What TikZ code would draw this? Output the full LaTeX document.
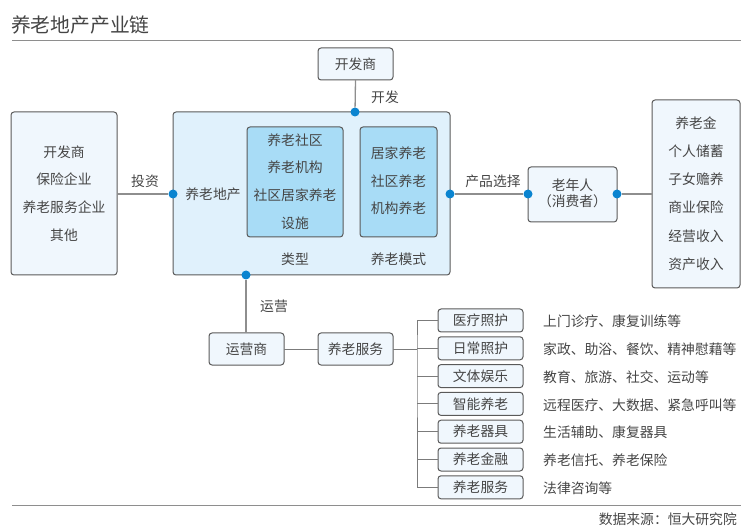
\documentclass[tikz,border=0pt]{standalone}
\usepackage{fontspec}
\setmainfont{Noto Sans CJK SC}
\definecolor{txt}{HTML}{454545}
\definecolor{bd}{HTML}{5A5A5A}
\definecolor{ln}{HTML}{8E8E8E}
\definecolor{dotc}{HTML}{0A84D0}
\definecolor{pale}{HTML}{F0F7FD}
\definecolor{mid}{HTML}{E0F1FC}
\definecolor{deep}{HTML}{A8DCF6}
\begin{document}
\begin{tikzpicture}[x=1pt,y=-1pt,
  every node/.style={text=txt,font=\fontsize{13.8}{27.7}\selectfont},
  boxs/.style={draw=bd,line width=1pt,rounded corners=3pt,inner sep=0pt,outer sep=0pt},
  palebox/.style={boxs,fill=pale},
  midbox/.style={boxs,fill=mid},
  deepbox/.style={boxs,fill=deep},
  dot/.style={circle,fill=dotc,inner sep=0pt,minimum size=9pt},
  conn/.style={draw=ln,line width=1.3pt},
  brk/.style={draw=bd!80,line width=1pt},
  lbl/.style={inner sep=0pt,align=center}
]
\useasboundingbox (0,0) rectangle (755,529);
% title
\node[anchor=west,inner sep=0pt,font=\fontsize{19.8}{22}\selectfont] (title) at (11,25) {养老地产产业链};
\draw[draw=ln,line width=1pt] (12,41) -- (741,41);
% boxes
\node[palebox,minimum width=106pt,minimum height=163pt] (left) at (64,193.5) {};
\node[lbl] (lefttxt) at (64,193.5) {开发商\\保险企业\\养老服务企业\\其他};
\node[midbox,minimum width=277pt,minimum height=163pt] (main) at (311.5,193.5) {};
\node[lbl] (maintxt) at (213,194) {养老地产};
\node[deepbox,minimum width=96pt,minimum height=110pt] (type) at (295,182) {};
\node[lbl] (typetxt) at (295,181.5) {养老社区\\养老机构\\社区居家养老\\设施};
\node[deepbox,minimum width=77pt,minimum height=110pt] (mode) at (398.5,182) {};
\node[lbl] (modetxt) at (398.5,181) {居家养老\\社区养老\\机构养老};
\node[lbl] (typelbl) at (295,259) {类型};
\node[lbl] (modelbl) at (398.5,259) {养老模式};
\node[palebox,minimum width=75pt,minimum height=32pt] (dev) at (355.5,64) {};
\node[lbl] (devtxt) at (355.5,64) {开发商};
\node[palebox,minimum width=89pt,minimum height=55pt] (old) at (572.5,194.5) {};
\node[lbl,font=\fontsize{13.8}{16}\selectfont] (oldtxt) at (572.5,193.5) {老年人\\（消费者）};
\node[palebox,minimum width=88pt,minimum height=188pt] (fund) at (696,194) {};
\node[lbl,font=\fontsize{13.8}{28.2}\selectfont] (fundtxt) at (696,193.5) {养老金\\个人储蓄\\子女赡养\\商业保险\\经营收入\\资产收入};
\node[palebox,minimum width=75pt,minimum height=32pt] (op) at (246.5,349) {};
\node[lbl] (optxt) at (246.5,349) {运营商};
\node[palebox,minimum width=75pt,minimum height=32pt] (svc) at (355.5,349) {};
\node[lbl] (svctxt) at (355.5,349) {养老服务};
% dots
\node[dot] (dtop) at (355,112) {};
\node[dot] (dleft) at (173,194) {};
\node[dot] (dright) at (450,194) {};
\node[dot] (dbot) at (246,275) {};
\node[dot] (doldl) at (528,194) {};
\node[dot] (doldr) at (617,194) {};
% connectors
\draw[conn] (dev.south) -- (dtop);
\draw[conn] (left.east |- dleft) -- (dleft);
\draw[conn] (dright) -- (doldl);
\draw[conn] (doldr) -- (fund.west |- doldr);
\draw[conn] (dbot) -- (dbot |- op.north);
\node[lbl] (l1) at (385,97) {开发};
\node[lbl] (l2) at (145,181) {投资};
\node[lbl] (l3) at (493,181) {产品选择};
\node[lbl] (l4) at (274,306) {运营};
\draw[brk] (op.east) -- (svc.west);
\coordinate (bx) at (417,349);
\draw[brk] (svc.east) -- (bx);
% services
\foreach \i/\a/\b in {0/医疗照护/上门诊疗、康复训练等,1/日常照护/家政、助浴、餐饮、精神慰藉等,2/文体娱乐/教育、旅游、社交、运动等,3/智能养老/远程医疗、大数据、紧急呼叫等,4/养老器具/生活辅助、康复器具,5/养老金融/养老信托、养老保险,6/养老服务/法律咨询等}{
  \node[palebox,minimum width=85pt,minimum height=23pt] (s\i) at (480.5,320.5+27.8*\i) {};
  \node[lbl] (st\i) at (480.5,320.5+27.8*\i) {\a};
  \node[lbl,anchor=west] (d\i) at (543,321.5+27.8*\i) {\b};
}
\draw[brk] (s0.west) -| (bx) |- (s6.west);
\foreach \i in {1,...,5}{ \draw[brk] (bx |- s\i.west) -- (s\i.west); }
\draw[draw=ln,line width=1pt] (12,505) -- (741,505);
\node[lbl,anchor=east] (src) at (737,519) {数据来源：恒大研究院};
\end{tikzpicture}
\end{document}
